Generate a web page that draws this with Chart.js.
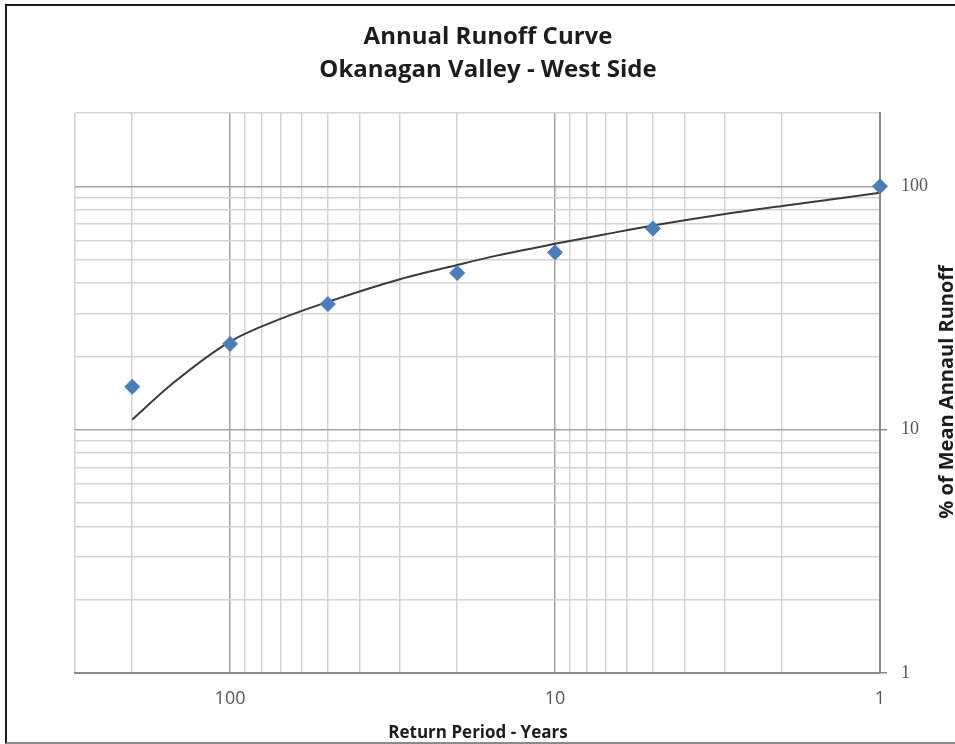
<!DOCTYPE html>
<html>
<head>
<meta charset="utf-8">
<title>Annual Runoff Curve</title>
<script src="https://cdn.jsdelivr.net/npm/chart.js@4.4.1/dist/chart.umd.min.js"></script>
<style>
  html, body { margin: 0; padding: 0; background: #fff; overflow: hidden; }
  #frame {
    position: absolute; left: 5px; top: 4px; width: 1000px; height: 736px;
    border: 2px solid #1e1e1e; border-right: none; border-bottom-color: #8a8a8a;
  }
  #wrap { position: absolute; left: 0; top: 0; width: 955px; height: 744px; }
</style>
</head>
<body>
<div id="frame"></div>
<div id="wrap"><canvas id="chart" width="955" height="744"></canvas></div>
<script>
const TITLE_LINES = [ 'Annual Runoff Curve', 'Okanagan Valley - West Side' ];
const X_TITLE = 'Return Period - Years';
const Y_TITLE = '% of Mean Annaul Runoff';

// observed points (return period in years, % of mean annual runoff)
const returnPeriods = [ 200, 100, 50, 20, 10, 5, 1 ];
const runoffPct     = [ 15, 22.5, 32.8, 44, 53.5, 67, 100 ];

// fitted curve
const curvePeriods = [ 200, 150, 100, 70, 50, 30, 20, 15, 10, 7, 5, 3, 2, 1 ];
const curvePct     = [ 11, 15.5, 23, 28.5, 33.5, 41.5, 47.5, 52, 58, 63.5, 69, 77, 83, 94 ];

// grid lines and labelled ticks
const xGridValues   = [ 1, 2, 3, 4, 5, 6, 7, 8, 9, 10, 20, 30, 40, 50, 60, 70, 80, 90, 100, 200, 300 ];
const yGridValues   = [ 1, 2, 3, 4, 5, 6, 7, 8, 9, 10, 20, 30, 40, 50, 60, 70, 80, 90, 100, 200 ];
const labelledTicks = [ 1, 10, 100 ];

const isMajor = ( ctx ) => ctx.tick && labelledTicks.includes( ctx.tick.value );
const gridColor = ( ctx ) => ( isMajor( ctx ) ? '#a3a3a3' : '#d3d3d3' );
const tickLabel = ( v ) => ( labelledTicks.includes( v ) ? String( v ) : '' );

const chartText = {
    id: 'chartText',
    afterDraw( chart ) {
        const { ctx } = chart;
        ctx.save();
        ctx.fillStyle = '#1c1c1c';
        ctx.textAlign = 'center';
        ctx.textBaseline = 'alphabetic';

        ctx.font = 'bold 24px "Open Sans"';
        TITLE_LINES.forEach( ( line, i ) => ctx.fillText( line, 488, 44 + i * 33 ) );

        ctx.font = 'bold 17px "Open Sans"';
        ctx.fillText( X_TITLE, 478, 738 );

        ctx.font = 'bold 20px "Open Sans"';
        ctx.translate( 953, 392 );
        ctx.rotate( -Math.PI / 2 );
        ctx.fillText( Y_TITLE, 0, 0 );
        ctx.restore();
    },
};

new Chart( document.getElementById( 'chart' ), {
    data: {
        datasets: [
            {
                type: 'scatter',
                label: 'Observed',
                data: returnPeriods.map( ( x, i ) => ( { x, y: runoffPct[ i ] } ) ),
                pointStyle: 'rectRot',
                pointRadius: 7.5,
                backgroundColor: '#4a7ebb',
                borderColor: '#4a7ebb',
                borderWidth: 1,
                clip: false,
            },
            {
                type: 'line',
                label: 'Curve',
                data: curvePeriods.map( ( x, i ) => ( { x, y: curvePct[ i ] } ) ),
                borderColor: '#3a3a3a',
                borderWidth: 2,
                pointRadius: 0,
                cubicInterpolationMode: 'monotone',
                fill: false,
                clip: false,
            },
        ],
    },
    options: {
        responsive: false,
        animation: false,
        events: [],
        layout: { padding: { left: 75, top: 113, right: 0, bottom: 0 } },
        plugins: {
            legend: { display: false },
            tooltip: { enabled: false },
            title: { display: false },
        },
        scales: {
            x: {
                type: 'logarithmic',
                position: 'bottom',
                reverse: true,
                min: 1,
                max: 300,
                afterBuildTicks: ( s ) => { s.ticks = xGridValues.map( ( value ) => ( { value } ) ); },
                afterFit: ( s ) => { s.height = 71; },
                grid: { color: gridColor, lineWidth: 1.5, drawTicks: false },
                border: { color: '#8a8a8a', width: 2 },
                ticks: {
                    autoSkip: false,
                    maxRotation: 0,
                    padding: 15,
                    color: '#555555',
                    font: { family: 'Open Sans', size: 18 },
                    callback: tickLabel,
                },
            },
            y: {
                type: 'logarithmic',
                position: 'right',
                min: 1,
                max: 200,
                afterBuildTicks: ( s ) => { s.ticks = yGridValues.map( ( value ) => ( { value } ) ); },
                afterFit: ( s ) => { s.width = 75; },
                grid: {
                    color: gridColor,
                    lineWidth: 1.5,
                    drawTicks: true,
                    tickLength: 7,
                    tickColor: ( ctx ) => ( isMajor( ctx ) ? '#8a8a8a' : 'rgba(0,0,0,0)' ),
                },
                border: { color: '#8a8a8a', width: 2 },
                ticks: {
                    autoSkip: false,
                    padding: 14,
                    color: '#555555',
                    font: { family: 'Liberation Serif', size: 18 },
                    callback: tickLabel,
                },
            },
        },
    },
    plugins: [ chartText ],
} );
</script>
</body>
</html>
